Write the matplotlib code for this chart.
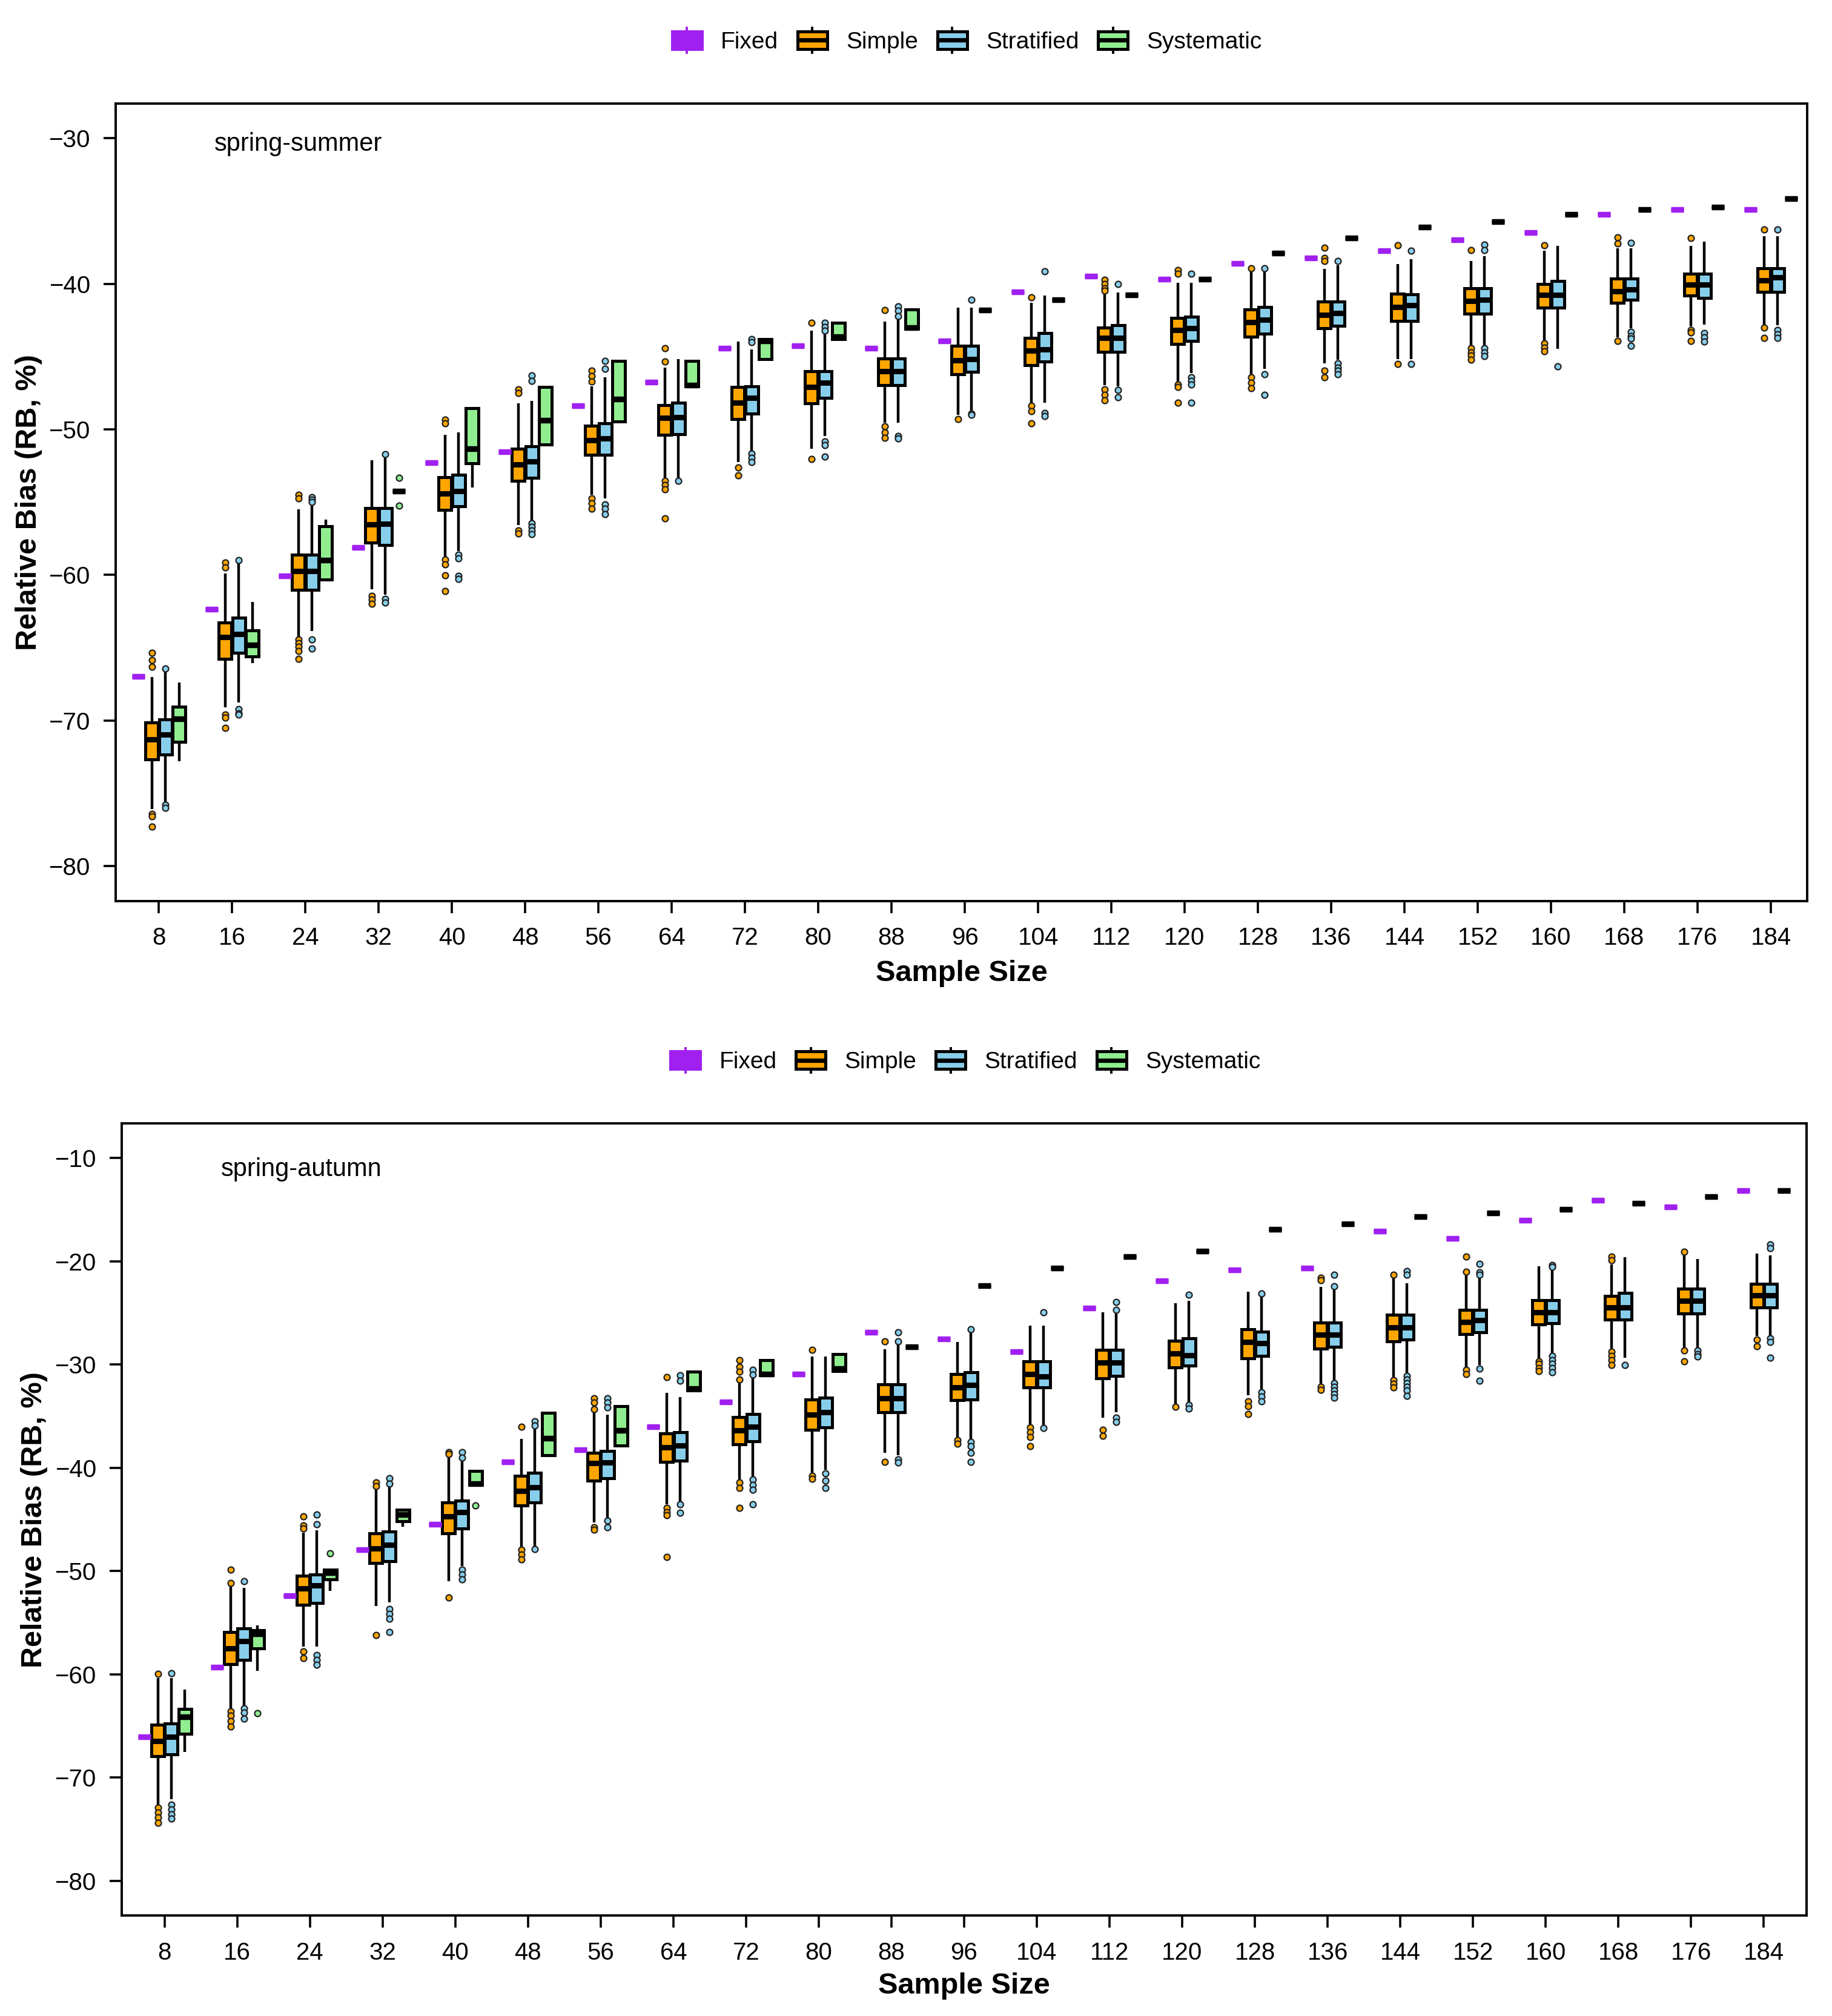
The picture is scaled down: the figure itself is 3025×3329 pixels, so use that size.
import numpy as np
import matplotlib
matplotlib.use("Agg")
import matplotlib.pyplot as plt
from matplotlib.patches import Rectangle
from matplotlib.lines import Line2D
from matplotlib.legend_handler import HandlerBase

plt.rcParams['font.family'] = ['Liberation Sans', 'DejaVu Sans']

# ---------------------------------------------------------------- data
SAMPLE_SIZES = [8, 16, 24, 32, 40, 48, 56, 64, 72, 80, 88, 96, 104, 112,
                120, 128, 136, 144, 152, 160, 168, 176, 184]
METHODS = ['Fixed', 'Simple', 'Stratified', 'Systematic']
COLORS = ['#A020F0', '#FFA500', '#87CEEB', '#90EE90']

# box rows: (lower whisker, Q1, median, Q3, upper whisker)
# ---- spring-summer
SS_FIXED = [-66.98, -62.37, -60.08, -58.12, -52.27, -51.55, -48.36, -46.76, -44.44,
            -44.25, -44.44, -43.92, -40.56, -39.48, -39.66, -38.60, -38.23, -37.71,
            -36.99, -36.47, -35.22, -34.89, -34.89]
SS_SIMPLE = [(-76.1, -72.69, -71.30, -70.13, -67.03), (-69.11, -65.76, -64.28, -63.26, -59.91),
             (-64.33, -61.01, -59.72, -58.62, -55.49), (-60.99, -57.76, -56.54, -55.42, -52.10),
             (-58.72, -55.54, -54.42, -53.30, -50.36), (-56.57, -53.53, -52.39, -51.31, -48.21),
             (-54.47, -51.74, -50.75, -49.73, -47.04), (-53.35, -50.38, -49.21, -48.34, -45.74),
             (-52.24, -49.27, -48.15, -47.09, -43.97), (-51.31, -48.21, -47.09, -46.02, -43.23),
             (-49.55, -46.95, -46.02, -45.12, -42.58), (-48.99, -46.20, -45.24, -44.25, -41.65),
             (-48.17, -45.57, -44.60, -43.71, -41.30), (-46.96, -44.68, -43.71, -43.01, -40.65),
             (-46.78, -44.12, -43.16, -42.32, -39.91), (-46.28, -43.62, -42.64, -41.76, -39.16),
             (-45.48, -43.06, -42.13, -41.21, -38.98), (-45.16, -42.56, -41.60, -40.67, -38.62),
             (-44.33, -42.04, -41.17, -40.30, -38.44), (-43.90, -41.63, -40.74, -40.00, -37.73),
             (-43.68, -41.30, -40.52, -39.63, -37.55), (-42.93, -40.80, -40.05, -39.31, -37.40),
             (-42.84, -40.56, -39.77, -38.94, -36.71)]
SS_SIMPLE_OUT = [[-65.36, -65.84, -66.29, -76.4, -76.6, -77.3], [-59.15, -59.5, -69.6, -69.8, -70.5],
                 [-54.49, -54.73, -64.45, -64.69, -64.93, -65.24, -65.76], [-61.42, -61.70, -61.99],
                 [-49.33, -49.57, -58.96, -59.27, -60.03, -61.11], [-47.25, -47.49, -56.93, -57.17],
                 [-45.98, -46.35, -46.72, -54.75, -55.08, -55.45], [-44.44, -45.33, -53.54, -53.82, -54.10, -56.13],
                 [-52.61, -53.17], [-42.67, -52.05], [-41.78, -49.77, -50.20, -50.57], [-49.27],
                 [-40.93, -48.36, -48.73, -49.60], [-39.72, -40.0, -40.28, -40.46, -47.24, -47.61, -47.99],
                 [-39.07, -39.29, -46.91, -47.09, -48.17], [-38.94, -46.41, -46.78, -47.15],
                 [-37.53, -38.23, -38.42, -45.98, -46.41], [-37.36, -45.50],
                 [-37.69, -44.42, -44.70, -44.94, -45.20], [-37.36, -44.08, -44.38, -44.64],
                 [-36.80, -37.21, -43.90], [-36.84, -43.16, -43.34, -43.90], [-36.28, -43.02, -43.71]]
SS_STRAT = [(-75.67, -72.33, -70.97, -69.94, -66.7), (-68.75, -65.36, -64.04, -62.94, -59.2),
            (-63.85, -61.01, -59.72, -58.62, -55.25), (-61.34, -57.93, -56.50, -55.42, -51.91),
            (-58.36, -55.30, -54.25, -53.10, -50.19), (-56.33, -53.34, -52.22, -51.15, -48.04),
            (-54.75, -51.74, -50.62, -49.58, -46.42), (-53.35, -50.33, -49.17, -48.15, -45.18),
            (-51.50, -48.90, -47.84, -47.04, -44.49), (-50.44, -47.84, -46.80, -46.02, -43.42),
            (-49.55, -46.95, -46.02, -45.12, -42.39), (-48.71, -46.05, -45.18, -44.25, -41.65),
            (-48.17, -45.35, -44.49, -43.38, -40.78), (-47.06, -44.68, -43.71, -42.82, -40.59),
            (-46.13, -43.94, -43.06, -42.26, -39.91), (-45.85, -43.43, -42.45, -41.58, -39.16),
            (-45.20, -42.88, -42.00, -41.21, -38.70), (-45.16, -42.56, -41.45, -40.70, -38.29),
            (-44.33, -42.04, -41.11, -40.30, -38.10), (-44.46, -41.63, -40.74, -39.81, -37.40),
            (-43.03, -41.11, -40.37, -39.63, -37.55), (-42.78, -40.98, -40.05, -39.31, -37.08),
            (-42.84, -40.56, -39.55, -38.94, -36.71)]
SS_STRAT_OUT = [[-66.43, -75.8, -76.0], [-59.0, -69.2, -69.5, -69.6], [-54.66, -54.82, -55.0, -64.45, -65.05],
                [-51.72, -61.66, -61.89], [-58.6, -58.84, -60.08, -60.27],
                [-46.3, -46.66, -56.45, -56.69, -56.93, -57.21], [-45.31, -45.83, -55.16, -55.45, -55.82],
                [-53.54], [-43.79, -44.01, -51.68, -51.96, -52.24],
                [-42.67, -42.95, -43.23, -50.81, -51.07, -51.87], [-41.56, -41.84, -42.21, -50.44, -50.62],
                [-41.09, -48.9, -49.0], [-39.13, -48.88, -49.06], [-40.0, -47.30, -47.80],
                [-39.29, -46.41, -46.65, -46.91, -48.17], [-38.94, -46.22, -47.61],
                [-38.42, -45.48, -45.76, -45.98, -46.22], [-37.73, -45.50],
                [-37.32, -37.69, -44.42, -44.70, -44.98], [-45.68],
                [-37.17, -43.30, -43.58, -43.77, -44.27], [-43.40, -43.68, -43.95],
                [-36.28, -43.16, -43.45, -43.71]]
# single numbers are collapsed boxes (all draws equal)
SS_SYS = [(-72.8, -71.45, -69.87, -69.06, -67.39), (-66.05, -65.60, -64.81, -63.80, -61.87),
          (-60.39, -60.32, -58.98, -56.64, -56.21), -54.23,
          (-54.01, -52.32, -51.31, -48.52, -48.52), (-51.03, -51.03, -49.36, -47.09, -47.09),
          (-49.45, -49.45, -47.91, -45.31, -45.31), (-47.04, -47.04, -46.95, -45.31, -45.31),
          (-45.18, -45.18, -43.94, -43.79, -43.79), (-43.79, -43.79, -43.64, -42.67, -42.67),
          (-43.08, -43.08, -43.01, -41.74, -41.74),
          -41.80, -41.09, -40.74, -39.66, -37.90, -36.84, -36.11, -35.74, -35.22, -34.89, -34.72, -34.16]
SS_SYS_OUT = {32: [-53.34, -55.25]}

# ---- spring-autumn
SA_FIXED = [-66.07, -59.33, -52.40, -47.95, -45.47, -39.43, -38.24, -36.01, -33.60,
            -30.93, -26.86, -27.56, -28.76, -24.55, -21.91, -20.85, -20.69, -17.08,
            -17.79, -16.02, -14.09, -14.77, -13.19]
SA_SIMPLE = [(-72.59, -67.92, -66.45, -64.86, -60.35), (-63.37, -59.01, -57.49, -55.90, -51.45),
             (-57.33, -53.29, -51.70, -50.43, -46.30), (-53.36, -49.22, -47.79, -46.36, -41.91),
             (-50.97, -46.36, -44.71, -43.34, -38.89), (-47.63, -43.66, -42.23, -40.79, -37.20),
             (-45.30, -41.23, -39.57, -38.56, -34.65), (-43.55, -39.42, -38.05, -36.65, -32.74),
             (-41.23, -37.73, -36.40, -35.12, -31.69), (-40.53, -36.33, -34.87, -33.37, -29.24),
             (-38.56, -34.65, -33.28, -31.94, -28.51), (-37.19, -33.47, -32.20, -30.93, -27.81),
             (-35.92, -32.20, -30.93, -29.72, -26.22), (-35.15, -31.34, -29.80, -28.56, -24.97),
             (-33.93, -30.28, -28.93, -27.68, -24.08), (-32.99, -29.40, -27.85, -26.62, -22.97),
             (-31.93, -28.46, -27.14, -25.92, -22.50), (-31.38, -27.75, -26.43, -25.21, -21.68),
             (-30.39, -27.05, -25.87, -24.69, -21.30), (-29.50, -26.15, -24.97, -23.80, -20.50),
             (-28.55, -25.63, -24.46, -23.37, -20.31), (-28.39, -25.09, -23.84, -22.67, -19.44),
             (-27.21, -24.46, -23.33, -22.19, -19.27)]
SA_SIMPLE_OUT = [[-59.97, -72.91, -73.39, -73.86, -74.40], [-49.86, -51.13, -63.59, -64.01, -64.55, -65.06],
                 [-44.71, -45.56, -45.88, -57.81, -58.44], [-41.43, -41.75, -56.22],
                 [-38.47, -38.66, -52.56], [-36.03, -47.95, -48.43, -48.90],
                 [-33.28, -33.69, -34.33, -45.77, -45.99], [-31.24, -43.87, -44.28, -44.60, -48.64],
                 [-29.56, -30.20, -30.67, -31.47, -41.42, -41.96, -43.87], [-28.61, -40.78, -41.10],
                 [-27.75, -39.42], [-37.35, -37.67], [-36.08, -36.55, -37.03, -37.92], [-36.33, -36.94],
                 [-34.12], [-33.58, -34.05, -34.82], [-21.63, -21.86, -32.16, -32.47],
                 [-21.32, -31.52, -31.85, -32.23], [-19.55, -21.0, -30.51, -30.91],
                 [-29.69, -29.92, -30.35, -30.63], [-19.55, -19.91, -28.74, -29.17, -29.57, -30.04],
                 [-19.08, -28.63, -29.69], [-27.57, -28.23]]
SA_STRAT = [(-72.11, -67.73, -66.07, -64.74, -60.35), (-63.05, -58.60, -56.79, -55.58, -51.61),
            (-57.33, -53.10, -51.38, -50.33, -46.04), (-53.04, -49.06, -47.47, -46.20, -41.75),
            (-49.54, -45.88, -44.29, -43.18, -39.30), (-47.63, -43.34, -41.91, -40.48, -36.19),
            (-44.82, -41.01, -39.51, -38.37, -34.87), (-43.23, -39.32, -37.83, -36.55, -33.15),
            (-40.85, -37.41, -36.01, -34.81, -31.24), (-40.21, -36.08, -34.65, -33.22, -29.24),
            (-38.78, -34.65, -33.28, -31.94, -27.97), (-37.19, -33.37, -32.01, -30.74, -26.90),
            (-35.92, -32.20, -31.15, -29.72, -26.22), (-34.63, -31.10, -29.80, -28.56, -25.02),
            (-33.69, -30.11, -29.10, -27.45, -23.84), (-32.51, -29.17, -27.92, -26.81, -23.37),
            (-31.57, -28.27, -27.14, -25.92, -22.74), (-30.98, -27.57, -26.39, -25.21, -22.15),
            (-30.04, -26.91, -25.73, -24.69, -21.49), (-28.98, -26.03, -24.93, -23.80, -20.78),
            (-29.33, -25.63, -24.46, -23.09, -19.60), (-28.39, -25.09, -23.84, -22.67, -19.79),
            (-27.21, -24.46, -23.33, -22.19, -19.44)]
SA_STRAT_OUT = [[-59.87, -72.59, -73.07, -73.55, -73.96], [-50.97, -63.28, -63.69, -64.32],
                [-44.52, -45.47, -58.12, -58.60, -59.08], [-41.02, -41.53, -53.68, -54.16, -54.63, -55.91],
                [-38.47, -39.05, -49.86, -50.33, -50.81], [-35.48, -35.93, -47.89],
                [-33.28, -33.69, -34.17, -45.14, -45.77], [-31.05, -31.56, -43.55, -44.35],
                [-30.51, -30.99, -41.16, -41.64, -42.12, -43.55], [-40.53, -41.23, -41.96],
                [-26.86, -27.75, -39.19, -39.51], [-26.60, -37.51, -37.92, -38.56, -39.42],
                [-24.95, -36.14], [-23.98, -24.69, -35.15, -35.58], [-23.28, -33.93, -34.28],
                [-23.14, -32.70, -33.10, -33.58], [-21.32, -22.43, -31.81, -32.16, -32.52, -32.87, -33.22],
                [-20.97, -21.32, -31.10, -31.45, -31.81, -32.16, -32.52, -33.03],
                [-20.26, -21.09, -21.32, -30.39, -31.57], [-20.40, -20.55, -29.17, -29.57, -29.92, -30.35, -30.75],
                [-30.04], [-28.63, -28.98, -29.22], [-18.38, -18.73, -27.45, -27.85, -29.33]]
SA_SYS = [(-67.50, -65.76, -64.10, -63.37, -61.46), (-59.65, -57.49, -56.06, -55.74, -55.26),
          (-51.92, -50.81, -50.17, -49.86, -49.86), (-45.72, -45.15, -44.52, -44.07, -44.07),
          (-41.65, -41.65, -41.53, -40.32, -40.32), (-38.79, -38.79, -37.14, -34.66, -34.66),
          (-37.83, -37.83, -36.40, -34.01, -34.01), (-32.52, -32.52, -32.33, -30.67, -30.67),
          (-31.05, -31.05, -30.93, -29.56, -29.56), (-30.61, -30.61, -30.42, -29.02, -29.02),
          -28.29, -22.40, -20.66, -19.55, -19.04, -16.92, -16.37, -15.67, -15.31, -14.96,
          -14.42, -13.74, -13.19]
SA_SYS_OUT = {16: [-63.78], 24: [-48.27], 40: [-43.66]}

# ---------------------------------------------------------------- helpers
OFFSETS = [-0.28, -0.093, 0.093, 0.28]
BOX_W = 0.175


def make_stats(rows, outs=None):
    stats = []
    for i, r in enumerate(rows):
        if isinstance(r, tuple):
            lo, q1, med, q3, hi = r
        else:
            lo = q1 = med = q3 = hi = r
        if isinstance(outs, dict):
            fl = outs.get(SAMPLE_SIZES[i], [])
        elif outs is None:
            fl = []
        else:
            fl = outs[i]
        stats.append(dict(whislo=lo, q1=q1, med=med, q3=q3, whishi=hi, fliers=fl))
    return stats


def draw_series(ax, stats, k, color, edge, medcolor, medlw=3.2):
    pos = np.arange(len(SAMPLE_SIZES)) + OFFSETS[k]
    ax.bxp(stats, positions=pos, widths=BOX_W, patch_artist=True, showcaps=False,
           manage_ticks=False,
           boxprops=dict(facecolor=color, edgecolor=edge, linewidth=1.8),
           medianprops=dict(color=medcolor, linewidth=medlw, solid_capstyle='butt'),
           whiskerprops=dict(color=edge, linewidth=1.6, solid_capstyle='butt'),
           flierprops=dict(marker='o', markerfacecolor=color, markeredgecolor='#222222',
                           markersize=3.6, markeredgewidth=0.8, linestyle='none'))


class BoxKey:
    def __init__(self, face, edge, med):
        self.face, self.edge, self.med = face, edge, med


class HandlerBoxKey(HandlerBase):
    def create_artists(self, legend, h, xdescent, ydescent, width, height, fontsize, trans):
        bh = height * 0.72
        x0 = -xdescent
        y0 = -ydescent + (height - bh) / 2
        rect = Rectangle((x0, y0), width, bh, facecolor=h.face, edgecolor=h.edge,
                         linewidth=1.8, transform=trans)
        med = Line2D([x0, x0 + width], [y0 + bh / 2] * 2, color=h.med, linewidth=2.6,
                     solid_capstyle='butt', transform=trans)
        wt = Line2D([x0 + width / 2] * 2, [y0 + bh, -ydescent + height], color=h.edge,
                    linewidth=1.4, transform=trans)
        wb = Line2D([x0 + width / 2] * 2, [-ydescent, y0], color=h.edge,
                    linewidth=1.4, transform=trans)
        return [wt, wb, rect, med]


def add_legend(fig, x, y):
    handles = [BoxKey(COLORS[0], COLORS[0], COLORS[0]),
               BoxKey(COLORS[1], 'black', 'black'),
               BoxKey(COLORS[2], 'black', 'black'),
               BoxKey(COLORS[3], 'black', 'black')]
    fig.legend(handles, METHODS, handler_map={BoxKey: HandlerBoxKey()}, ncol=4,
               loc='center', bbox_to_anchor=(x, y), frameon=False, fontsize=14,
               handlelength=1.26, handleheight=1.22, handletextpad=0.8,
               columnspacing=0.82, borderpad=0, borderaxespad=0)


def draw_panel(ax, fixed, simple, simple_out, strat, strat_out, sysr, sys_out,
               xlim, ylim, yticks, title, title_xy):
    draw_series(ax, make_stats(fixed), 0, COLORS[0], COLORS[0], COLORS[0], medlw=3.4)
    draw_series(ax, make_stats(simple, simple_out), 1, COLORS[1], 'black', 'black')
    draw_series(ax, make_stats(strat, strat_out), 2, COLORS[2], 'black', 'black')
    draw_series(ax, make_stats(sysr, sys_out), 3, COLORS[3], 'black', 'black', medlw=3.4)
    ax.set_xlim(*xlim)
    ax.set_ylim(*ylim)
    ax.set_xticks(np.arange(len(SAMPLE_SIZES)))
    ax.set_xticklabels([str(s) for s in SAMPLE_SIZES])
    ax.set_yticks(yticks)
    ax.tick_params(axis='both', direction='out', length=7.2, width=1.3, labelsize=14.5,
                   pad=8, colors='black')
    for sp in ax.spines.values():
        sp.set_linewidth(1.4)
        sp.set_color('black')
    ax.set_xlabel('Sample Size', fontsize=17.5, fontweight='bold', va='center')
    ax.set_ylabel('Relative Bias (RB, %)', fontsize=17.5, fontweight='bold', va='center')
    ax.text(title_xy[0], title_xy[1], title, transform=ax.transAxes, fontsize=15,
            ha='left', va='baseline')


# ---------------------------------------------------------------- figure
fig = plt.figure(figsize=(15.125, 16.645), dpi=200)
ax1 = fig.add_axes([0.06314, 0.55302, 0.92331, 0.39561])
ax2 = fig.add_axes([0.06645, 0.04974, 0.91967, 0.39303])

draw_panel(ax1, SS_FIXED, SS_SIMPLE, SS_SIMPLE_OUT, SS_STRAT, SS_STRAT_OUT, SS_SYS, SS_SYS_OUT,
           (-0.587, 22.496), (-82.41, -27.61), [-30, -40, -50, -60, -70, -80],
           'spring-summer', (0.0584, 0.941))
draw_panel(ax2, SA_FIXED, SA_SIMPLE, SA_SIMPLE_OUT, SA_STRAT, SA_STRAT_OUT, SA_SYS, SA_SYS_OUT,
           (-0.589, 22.59), (-83.37, -6.66), [-10, -20, -30, -40, -50, -60, -70, -80],
           'spring-autumn', (0.059, 0.9335))

ax1.xaxis.set_label_coords(0.5, -0.0904)
ax1.yaxis.set_label_coords(-0.0512, 0.5)
ax2.xaxis.set_label_coords(0.5, -0.0891)
ax2.yaxis.set_label_coords(-0.0518, 0.5)

add_legend(fig, 0.5278, 0.9799)
add_legend(fig, 0.527, 0.4739)

fig.savefig('out.png', dpi=200, facecolor='white')
